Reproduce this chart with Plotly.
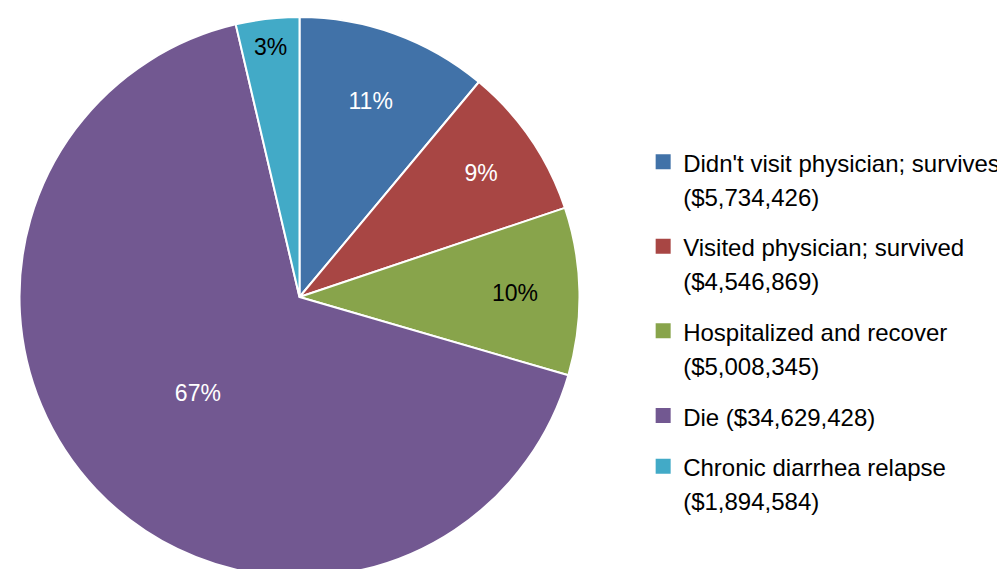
import plotly.graph_objects as go

labels = [
    "Didn't visit physician; survives<br>($5,734,426)",
    "Visited physician; survived<br>($4,546,869)",
    "Hospitalized and recover<br>($5,008,345)",
    "Die ($34,629,428)",
    "Chronic diarrhea relapse<br>($1,894,584)",
]
values = [5734426, 4546869, 5008345, 34629428, 1894584]
pct_text = ["11%", "9%", "10%", "67%", "3%"]
colors = ["#4172A8", "#A84644", "#88A44B", "#725891", "#42AAC7"]
text_colors = ["white", "white", "black", "white", "black"]

FONT = "Liberation Sans, Arial, Helvetica, sans-serif"


def legend_label(s):
    parts = s.split("<br>")
    return "<br>".join('<span style="font-size:24px">' + p + "</span>" for p in parts)


fig = go.Figure()
fig.add_trace(go.Pie(
    labels=labels,
    values=values,
    text=pct_text,
    textinfo="text",
    textposition="inside",
    insidetextorientation="horizontal",
    textfont=dict(size=23, color=text_colors, family=FONT),
    marker=dict(colors=colors, line=dict(color="white", width=2)),
    sort=False,
    direction="clockwise",
    rotation=0,
    domain=dict(x=[0, 0.5801], y=[0, 1]),
    hoverinfo="label+percent",
    showlegend=False,
))

# legend entries (one per slice)
for i, (lab, col) in enumerate(zip(labels, colors)):
    fig.add_trace(go.Scatter(
        x=[None], y=[None], mode="markers",
        marker=dict(symbol="square", size=15, color=col),
        name=legend_label(lab),
        legendgroup=f"g{i}",
        showlegend=True,
        hoverinfo="skip",
    ))

fig.update_xaxes(visible=False)
fig.update_yaxes(visible=False)

fig.update_layout(
    width=1005,
    height=569,
    margin=dict(l=0, r=0, t=9, b=0, autoexpand=False),
    paper_bgcolor="white",
    plot_bgcolor="white",
    font=dict(family=FONT, color="black"),
    showlegend=True,
    legend=dict(
        x=0.632, y=0.7835, xanchor="left", yanchor="top",
        font=dict(size=26, color="black", family=FONT),
        valign="top",
        traceorder="grouped",
        tracegroupgap=14,
        itemsizing="trace",
        bgcolor="rgba(0,0,0,0)",
        itemclick=False,
        itemdoubleclick=False,
    ),
)

fig.write_html("out.html")
